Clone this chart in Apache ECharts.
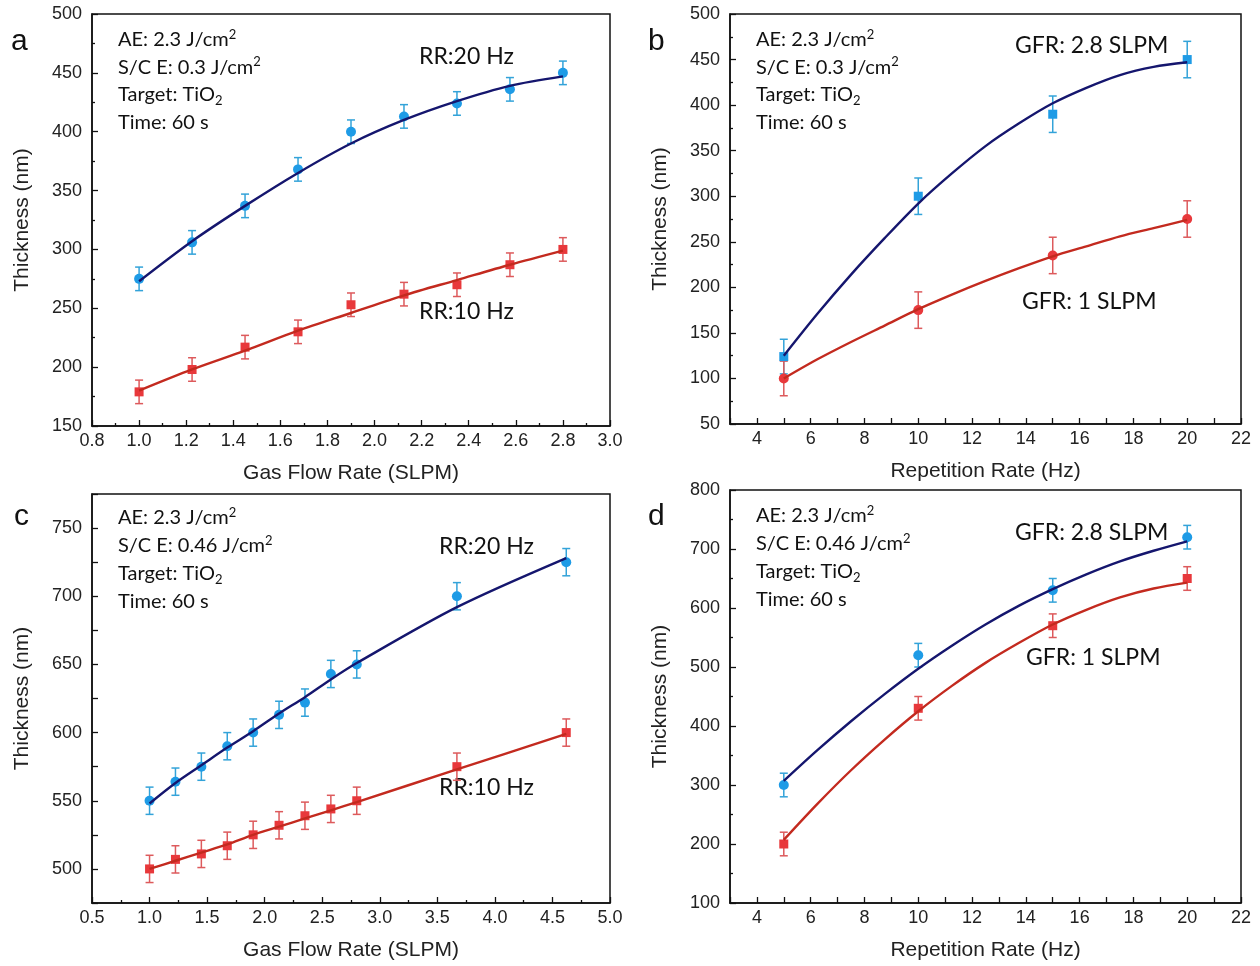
<!DOCTYPE html>
<html>
<head>
    <meta charset="utf-8">
    <title>Thickness</title>
    <script src="https://cdn.jsdelivr.net/npm/echarts@6/dist/echarts.min.js"></script>
    <style>
        html, body { margin: 0; padding: 0; background: #fff; }
        #main { width: 1260px; height: 966px; }
    </style>
</head>
<body>
<div id="main"></div>
<script type="text/javascript">
    // panel a : gas flow rate, S/C E 0.3
    var gfrA = [1.0, 1.225, 1.45, 1.675, 1.9, 2.125, 2.35, 2.575, 2.8];
    var thickA20 = [275, 306, 337, 368, 400, 413, 424, 436, 450];
    var thickA10 = [179, 198, 217, 230, 253, 262, 270, 287, 300];
    var fitA20 = [273, 307, 337, 365, 390, 410, 426, 439, 447];
    var fitA10 = [180, 198, 214, 231, 246, 261, 274, 287, 299];
    var errA = [10, 10, 10, 10, 10, 10, 10, 10, 10];

    // panel b : repetition rate, S/C E 0.3
    var rrB = [5, 10, 15, 20];
    var thickB28 = [124, 300, 390, 450];
    var thickB1 = [100, 175, 235, 275];
    var errB = [19, 20, 20, 20];
    var fitXB = [5, 6.25, 7.5, 8.75, 10, 11.25, 12.5, 13.75, 15, 16.25, 17.5, 18.75, 20];
    var fitB28 = [125, 171, 214, 254, 292, 325, 355, 380, 402, 419, 433, 442, 447];
    var fitB1 = [100, 121, 140, 158, 176, 192, 207, 221, 234, 245, 256, 265, 274];

    // panel c : gas flow rate, S/C E 0.46
    var gfrC = [1.0, 1.225, 1.45, 1.675, 1.9, 2.125, 2.35, 2.575, 2.8, 3.67, 4.62];
    var thickC20 = [550, 564, 575, 590, 600, 613, 622, 643, 650, 700, 725];
    var thickC10 = [500, 507, 511, 517, 525, 532, 539, 544, 550, 575, 600];
    var fitC20 = [548, 563, 576, 589, 601, 614, 626, 639, 651, 692, 728];
    var fitC10 = [500, 506, 512, 518, 525, 531, 537, 543, 549, 573, 599];
    var errC = [10, 10, 10, 10, 10, 10, 10, 10, 10, 10, 10];

    // panel d : repetition rate, S/C E 0.46
    var rrD = [5, 10, 15, 20];
    var thickD28 = [300, 520, 630, 720];
    var thickD1 = [200, 430, 570, 650];
    var errD = [20, 20, 20, 20];
    var fitXD = [5, 6.25, 7.5, 8.75, 10, 11.25, 12.5, 13.75, 15, 16.25, 17.5, 18.75, 20];
    var fitD28 = [307, 359, 408, 454, 497, 536, 572, 604, 632, 657, 679, 697, 713];
    var fitD1 = [207, 268, 325, 377, 425, 468, 507, 541, 572, 597, 618, 633, 643];

    var BLUE = '#1e9be6', BLUE_ERR = '#33a3d9', NAVY = '#15166e';
    var RED = '#e8383b', RED_ERR = '#dd5a5c', DKRED = '#c32a1f';
    var AXFONT = '"Liberation Sans", Arial, sans-serif';
    var TXTFONT = 'Lato, "Open Sans", "Noto Sans", sans-serif';

    var grids = [
        {left: 92, top: 14, width: 518, height: 412},
        {left: 730, top: 14, width: 511, height: 410},
        {left: 92, top: 494, width: 518, height: 409},
        {left: 730, top: 490, width: 511, height: 413}
    ];

    function pairs(xs, ys) {
        return xs.map(function (x, i) { return [x, ys[i]]; });
    }
    function bars(xs, ys, es) {
        return xs.map(function (x, i) { return [x, ys[i] - es[i], ys[i] + es[i]]; });
    }

    function errRender(params, api) {
        var x = api.value(0);
        var p1 = api.coord([x, api.value(2)]);
        var p2 = api.coord([x, api.value(1)]);
        var w = 4;
        var st = {stroke: api.visual('color'), lineWidth: 1.5};
        return {
            type: 'group',
            children: [
                {type: 'line', shape: {x1: p1[0], y1: p1[1], x2: p2[0], y2: p2[1]}, style: st},
                {type: 'line', shape: {x1: p1[0] - w, y1: p1[1], x2: p1[0] + w, y2: p1[1]}, style: st},
                {type: 'line', shape: {x1: p2[0] - w, y1: p2[1], x2: p2[0] + w, y2: p2[1]}, style: st}
            ]
        };
    }

    function xAxisOf(idx, min, max, interval, name, labelFn, minor) {
        return {
            type: 'value', gridIndex: idx, min: min, max: max, interval: interval,
            name: name, nameLocation: 'middle', nameGap: 37,
            nameTextStyle: {fontFamily: AXFONT, fontSize: 21, color: '#222'},
            axisLine: {lineStyle: {color: '#111', width: 1.5}},
            axisTick: {inside: true, length: 6, lineStyle: {color: '#111', width: 1.3}},
            minorTick: {show: minor, splitNumber: 2, length: 3, lineStyle: {color: '#111', width: 1.3}},
            axisLabel: {fontFamily: AXFONT, fontSize: 18, color: '#222', margin: 6, formatter: labelFn, showMinLabel: true, showMaxLabel: true},
            splitLine: {show: false}
        };
    }
    function yAxisOf(idx, min, max, interval, labelFn, minor) {
        return {
            type: 'value', gridIndex: idx, min: min, max: max, interval: interval,
            name: 'Thickness (nm)', nameLocation: 'middle', nameGap: 59,
            nameTextStyle: {fontFamily: AXFONT, fontSize: 21, color: '#222'},
            axisLine: {lineStyle: {color: '#111', width: 1.5}},
            axisTick: {inside: true, length: 6, lineStyle: {color: '#111', width: 1.3}},
            minorTick: {show: minor, splitNumber: 2, length: 3, lineStyle: {color: '#111', width: 1.3}},
            axisLabel: {fontFamily: AXFONT, fontSize: 18, color: '#222', margin: 10, formatter: labelFn, showMinLabel: true, showMaxLabel: true},
            splitLine: {show: false}
        };
    }

    var fix1 = function (v) { return v.toFixed(1); };
    var even = function (v) { return v % 2 === 0 ? String(v) : ''; };
    var fifty = function (v) { return v % 50 === 0 ? String(v) : ''; };
    var plain = function (v) { return String(v); };

    function markers(idx, data, color, symbol) {
        return {
            type: 'scatter', xAxisIndex: idx, yAxisIndex: idx, data: data,
            symbol: symbol, symbolSize: symbol === 'rect' ? 9 : 10,
            itemStyle: {color: color, opacity: 1}, z: 3
        };
    }
    function errs(idx, data, color) {
        return {
            type: 'custom', xAxisIndex: idx, yAxisIndex: idx, data: data,
            renderItem: errRender, itemStyle: {color: color}, z: 2, silent: true
        };
    }
    function fit(idx, data, color) {
        return {
            type: 'line', xAxisIndex: idx, yAxisIndex: idx, data: data,
            smooth: 0.3, showSymbol: false, lineStyle: {color: color, width: 2.4}, z: 4, silent: true
        };
    }

    var RICH = {
        sup: {fontSize: 13, fontFamily: TXTFONT, fill: '#111', verticalAlign: 'top', lineHeight: 24},
        sub: {fontSize: 13, fontFamily: TXTFONT, fill: '#111', verticalAlign: 'bottom', lineHeight: 24}
    };
    function textEl(x, y, t, size, font) {
        return {
            type: 'text', x: x, y: y, silent: true,
            style: {text: t, fontSize: size, fontFamily: font || TXTFONT, fill: '#111',
                verticalAlign: 'middle', lineHeight: 24, rich: RICH}
        };
    }
    function infoBlock(x, y0, step, sce) {
        return [
            textEl(x, y0, 'AE: 2.3 J/cm{sup|2}', 20),
            textEl(x, y0 + step, 'S/C E: ' + sce + ' J/cm{sup|2}', 20),
            textEl(x, y0 + step * 2, 'Target: TiO{sub|2}', 20),
            textEl(x, y0 + step * 3, 'Time: 60 s', 20)
        ];
    }

    var graphics = [].concat(
        [textEl(11, 42, 'a', 30, AXFONT), textEl(648, 42, 'b', 30, AXFONT),
         textEl(14, 517, 'c', 30, AXFONT), textEl(648, 517, 'd', 30, AXFONT)],
        infoBlock(118, 40, 27.5, '0.3'),
        infoBlock(756, 40, 27.5, '0.3'),
        infoBlock(118, 518, 28, '0.46'),
        infoBlock(756, 516, 28, '0.46'),
        [textEl(419, 57, 'RR:20 Hz', 23), textEl(419, 312, 'RR:10 Hz', 23),
         textEl(1015, 46, 'GFR: 2.8 SLPM', 23), textEl(1022, 302, 'GFR: 1 SLPM', 23),
         textEl(439, 547, 'RR:20 Hz', 23), textEl(439, 788, 'RR:10 Hz', 23),
         textEl(1015, 533, 'GFR: 2.8 SLPM', 23), textEl(1026, 658, 'GFR: 1 SLPM', 23)]
    );

    var option = {
        animation: false,
        backgroundColor: '#fff',
        grid: grids.map(function (g) {
            return {left: g.left, top: g.top, width: g.width, height: g.height,
                show: true, borderColor: '#111', borderWidth: 1.5, containLabel: false};
        }),
        xAxis: [
            xAxisOf(0, 0.8, 3.0, 0.2, 'Gas Flow Rate (SLPM)', fix1, true),
            xAxisOf(1, 3, 22, 1, 'Repetition Rate (Hz)', even, false),
            xAxisOf(2, 0.5, 5.0, 0.5, 'Gas Flow Rate (SLPM)', fix1, true),
            xAxisOf(3, 3, 22, 1, 'Repetition Rate (Hz)', even, false)
        ],
        yAxis: [
            yAxisOf(0, 150, 500, 50, plain, true),
            yAxisOf(1, 50, 500, 50, plain, true),
            yAxisOf(2, 475, 775, 25, fifty, false),
            yAxisOf(3, 100, 800, 100, plain, true)
        ],
        graphic: graphics,
        series: [
            errs(0, bars(gfrA, thickA20, errA), BLUE_ERR),
            errs(0, bars(gfrA, thickA10, errA), RED_ERR),
            markers(0, pairs(gfrA, thickA20), BLUE, 'circle'),
            markers(0, pairs(gfrA, thickA10), RED, 'rect'),
            fit(0, pairs(gfrA, fitA20), NAVY),
            fit(0, pairs(gfrA, fitA10), DKRED),

            errs(1, bars(rrB, thickB28, errB), BLUE_ERR),
            errs(1, bars(rrB, thickB1, errB), RED_ERR),
            markers(1, pairs(rrB, thickB28), BLUE, 'rect'),
            markers(1, pairs(rrB, thickB1), RED, 'circle'),
            fit(1, pairs(fitXB, fitB28), NAVY),
            fit(1, pairs(fitXB, fitB1), DKRED),

            errs(2, bars(gfrC, thickC20, errC), BLUE_ERR),
            errs(2, bars(gfrC, thickC10, errC), RED_ERR),
            markers(2, pairs(gfrC, thickC20), BLUE, 'circle'),
            markers(2, pairs(gfrC, thickC10), RED, 'rect'),
            fit(2, pairs(gfrC, fitC20), NAVY),
            fit(2, pairs(gfrC, fitC10), DKRED),

            errs(3, bars(rrD, thickD28, errD), BLUE_ERR),
            errs(3, bars(rrD, thickD1, errD), RED_ERR),
            markers(3, pairs(rrD, thickD28), BLUE, 'circle'),
            markers(3, pairs(rrD, thickD1), RED, 'rect'),
            fit(3, pairs(fitXD, fitD28), NAVY),
            fit(3, pairs(fitXD, fitD1), DKRED)
        ]
    };

    var chart = echarts.init(document.getElementById('main'));
    chart.setOption(option);
</script>
</body>
</html>
